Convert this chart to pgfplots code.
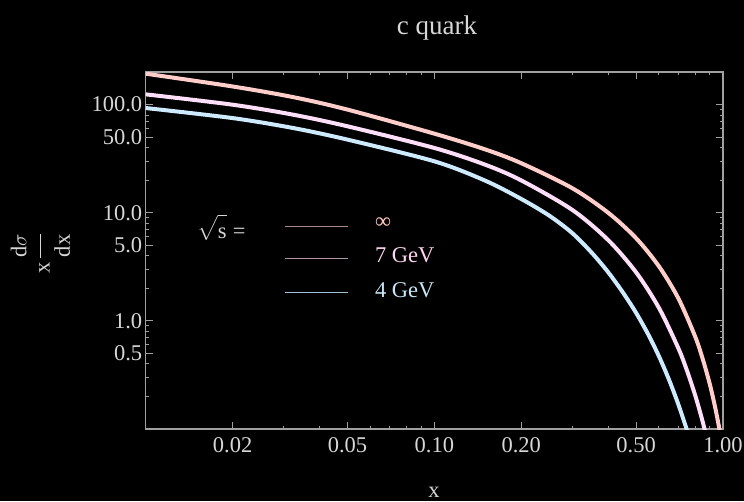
\documentclass[border=0pt]{standalone}
\usepackage{amsmath}
\usepackage{fontspec}
\setmainfont{Liberation Serif}
\usepackage{pgfplots}
\pgfplotsset{compat=1.18}
\definecolor{axgray}{RGB}{160,160,160}
\definecolor{lblgray}{RGB}{215,215,215}
\definecolor{cinf}{RGB}{255,206,202}
\definecolor{cseven}{RGB}{255,222,250}
\definecolor{cfour}{RGB}{206,234,255}
\definecolor{linf}{RGB}{170,140,140}
\definecolor{lseven}{RGB}{175,150,168}
\definecolor{lfour}{RGB}{160,195,212}
\definecolor{tinf}{RGB}{255,200,196}
\definecolor{tseven}{RGB}{255,215,242}
\definecolor{tfour}{RGB}{200,230,248}
\begin{document}
\begin{tikzpicture}[x=1pt,y=1pt]
\fill[black] (0,0) rectangle (744,501);
\begin{axis}[
  at={(145.7pt,72pt)}, anchor=south west,
  scale only axis, width=577.3pt, height=357pt,
  xmode=log, ymode=log,
  xmin=0.01, xmax=1, ymin=0.1, ymax=200,
  axis line style={color=axgray, line width=1.2pt},
  tick align=inside,
  major tick length=7pt, minor tick length=3.5pt,
  every tick/.style={color=axgray, line width=1pt},
  xtick={0.02,0.05,0.1,0.2,0.5,1},
  xticklabels={0.02,0.05,0.10,0.20,0.50,1.00},
  minor xtick={0.03,0.04,0.06,0.07,0.08,0.09,0.3,0.4,0.6,0.7,0.8,0.9},
  ytick={0.5,1,5,10,50,100},
  yticklabels={0.5,1.0,5.0,10.0,50.0,100.0},
  minor ytick={0.2,0.3,0.4,0.6,0.7,0.8,0.9,2,3,4,6,7,8,9,20,30,40,60,70,80,90},
  ticklabel style={font=\fontsize{22.5}{26}\selectfont, text=lblgray},
  xticklabel style={yshift=-5pt},
  legend style={at={(axis description cs:0.2396,0.6078)}, anchor=north west,
    draw=none, fill=none, inner sep=0pt, outer sep=0pt,
    row sep=18.75pt, column sep=27pt,
    nodes={inner sep=0pt, text height=16pt, text depth=0pt, anchor=base west},
    font=\fontsize{22.5}{26}\selectfont},
  legend cell align=left,
]
\addplot[forget plot, color=cinf, line width=4pt, smooth] coordinates {
(0.01,193)(0.02,147)(0.0325,117)(0.0502,89.6)(0.1003,53.7)(0.15,38.5)(0.2,28.7)(0.3,16.9)(0.4,10.0)(0.5,5.81)(0.6,3.19)(0.7,1.62)(0.8,0.721)(0.85,0.447)(0.9,0.260)(0.94,0.157)(0.976,0.0938)(0.99,0.075)
};
\addplot[forget plot, color=cseven, line width=4pt, smooth] coordinates {
(0.01,124.3)(0.02,99.7)(0.0325,80.5)(0.0502,62.8)(0.1003,39.6)(0.15,27.8)(0.2,19.9)(0.3,10.65)(0.4,5.59)(0.5,2.81)(0.6,1.317)(0.7,0.560)(0.75,0.348)(0.8,0.207)(0.84,0.132)(0.866,0.0965)(0.88,0.0808)
};
\addplot[forget plot, color=cfour, line width=4pt, smooth] coordinates {
(0.01,92.9)(0.02,75.0)(0.0325,60.6)(0.0502,47.3)(0.1003,29.8)(0.15,19.8)(0.2,13.4)(0.25,9.4)(0.3,6.5)(0.35,4.3)(0.4,2.82)(0.45,1.83)(0.5,1.185)(0.55,0.754)(0.6,0.470)(0.65,0.286)(0.7,0.1695)(0.748,0.1)(0.77,0.0773)
};
\addlegendimage{legend image code/.code={\draw[linf, line width=1.1pt] (0pt,1.5pt) -- (63pt,1.5pt);}}
\addlegendentry{\textcolor{tinf}{∞}}
\addlegendimage{legend image code/.code={\draw[lseven, line width=1.1pt] (0pt,4.5pt) -- (63pt,4.5pt);}}
\addlegendentry{\textcolor{tseven}{7 GeV}}
\addlegendimage{legend image code/.code={\draw[lfour, line width=1.1pt] (0pt,5pt) -- (63pt,5pt);}}
\addlegendentry{\textcolor{tfour}{4 GeV}}
\end{axis}
\node[anchor=base, text=lblgray, font=\fontsize{27}{32}\selectfont] at (437,466) {c quark};
\node[anchor=base, text=lblgray, font=\fontsize{22.5}{26}\selectfont] at (434,4) {x};
\node[rotate=90, text=lblgray, font=\fontsize{22.5}{26}\selectfont] at (40.5,247.5) {\raisebox{-4.5pt}{x}\,$\dfrac{\text{d}\sigma\rule[-10.6pt]{0pt}{10.6pt}}{\rule{0pt}{27pt}\text{dx}}$};
\node[anchor=base west, text=lblgray, font=\fontsize{22.5}{26}\selectfont, inner sep=0pt] at (197,262) {$\sqrt{\text{s}\rule{0pt}{21pt}}$\;=};
\pgfresetboundingbox
\path (0,0) rectangle (744,501);
\end{tikzpicture}
\end{document}
